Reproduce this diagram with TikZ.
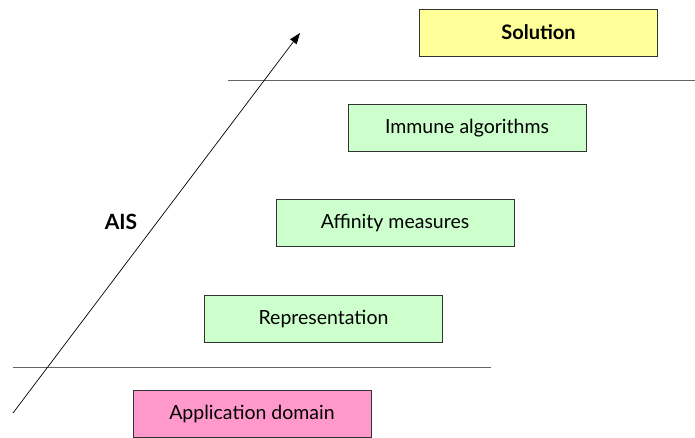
\documentclass[tikz,border=0pt]{standalone}
\usepackage{fontspec}
\setmainfont{Lato}
\usetikzlibrary{arrows.meta,positioning,calc}
\definecolor{yellow10}{RGB}{255, 255, 153}
\definecolor{green10}{RGB}{204, 255, 204}
\definecolor{pink10}{RGB}{255, 153, 204}
\definecolor{gray10}{RGB}{100, 100, 100}

\begin{document}
\begin{tikzpicture}[x=1pt, y=-1pt, thick,
    layer/.style={draw=black!80, line width=0.8pt, minimum width=238pt, minimum height=47pt,
      inner sep=0pt, font=\fontsize{19.5}{23}\selectfont}]
  \useasboundingbox (0,0) rectangle (695,437);
  \node[layer, fill=yellow10, font=\fontsize{20}{24}\selectfont\bfseries] (sol) at (538.5, 32.5) {Solution};
  \node[layer, fill=green10]  (immune) at (467.0, 128.0) {Immune algorithms};
  \node[layer, fill=green10]  (affinity) at (395.0, 223.0) {Affinity measures};
  \node[layer, fill=green10]  (repr) at (323.5, 319.0) {Representation};
  \node[layer, fill=pink10]   (app) at (252.0, 414.0) {Application domain};
  \draw[gray10, line width=1pt] (228, 80) -- (695, 80);
  \draw[gray10, line width=1pt] (13, 367) -- (491, 367);
  \coordinate (tail) at (13, 413);
  \coordinate (head) at (300, 33);
  \draw[-{Triangle[length=11pt, width=8pt]}, line width=0.7pt] (tail) -- (head);
  \node[font=\fontsize{21}{25}\selectfont\bfseries] (ais) at (121, 222) {AIS};
\end{tikzpicture}
\end{document}
